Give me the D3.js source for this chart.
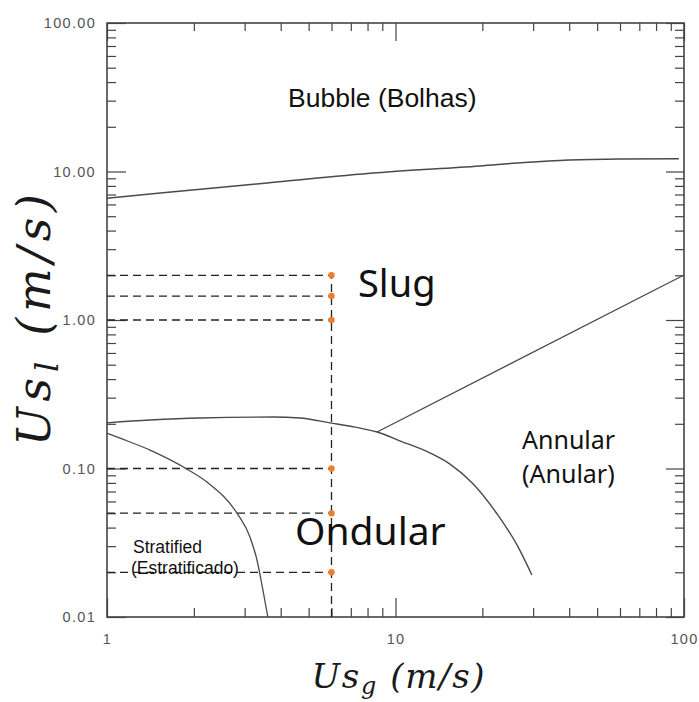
<!DOCTYPE html>
<html>
<head>
<meta charset="utf-8">
<script src="https://cdn.jsdelivr.net/npm/d3@7"></script>
<style>
  body { margin: 0; background: #fff; }
  .tick text { font-family: "Liberation Sans", Arial, sans-serif; font-size: 14.5px; fill: #555; letter-spacing: 1.3px; }
  .tick line { stroke: #444; stroke-width: 1.2; }
</style>
</head>
<body>
<svg id="chart"></svg>
<script>
// tick values
const yMajor = [0.01, 0.1, 1, 10, 100];
const xMajor = [1, 10, 100];

// boundary between bubble and slug
const bubbleUsg = [1, 1.53, 3.59, 8.6, 19.6, 28, 40, 60, 96];
const bubbleUsl = [6.6, 7.17, 8.37, 9.8, 10.9, 11.5, 11.95, 12.15, 12.2];

// boundary slug / ondular
const slugUsg = [1, 1.41, 2.1, 3.77, 4.66, 5.93, 7.24, 8.63, 10.4, 13.2, 15.45, 18.6, 22.5, 26.4, 29.7];
const slugUsl = [0.203, 0.212, 0.219, 0.222, 0.219, 0.203, 0.19, 0.176, 0.153, 0.127, 0.107, 0.0787, 0.0494, 0.0305, 0.0192];

// boundary slug / annular
const annularUsg = [8.63, 100];
const annularUsl = [0.176, 2.01];

// boundary stratified / ondular
const stratUsg = [1, 1.11, 1.41, 1.89, 2.22, 2.82, 3.13, 3.31, 3.47, 3.61];
const stratUsl = [0.173, 0.16, 0.133, 0.0993, 0.0811, 0.0501, 0.0346, 0.0242, 0.0152, 0.01];

// guide points at Usg = 6
const guideUsg = 6;
const guideUsl = [2, 1.45, 1, 0.1, 0.05, 0.02];

const width = 699, height = 702;
const plot = { left: 107, right: 684, top: 23, bottom: 617 };

const svg = d3.select("#chart")
    .attr("width", width)
    .attr("height", height);

const x = d3.scaleLog().domain([1, 100]).range([plot.left, plot.right]);
const y = d3.scaleLog().domain([0.01, 100]).range([plot.bottom, plot.top]);

const xMinor = x.ticks().filter(d => !xMajor.includes(d));
const yMinor = y.ticks().filter(d => !yMajor.includes(d));

// axes: ticks pointing inward on all four sides
function addAxis(axis, transform) {
    svg.append("g")
        .attr("transform", transform)
        .call(axis)
        .call(g => g.select(".domain").remove());
}

addAxis(d3.axisLeft(y).tickValues(yMajor).tickSize(-19).tickPadding(11).tickFormat(d3.format(".2f")), `translate(${plot.left},0)`);
addAxis(d3.axisLeft(y).tickValues(yMinor).tickSize(-9).tickFormat(""), `translate(${plot.left},0)`);
addAxis(d3.axisRight(y).tickValues(yMajor).tickSize(-18).tickFormat(""), `translate(${plot.right},0)`);
addAxis(d3.axisRight(y).tickValues(yMinor).tickSize(-9).tickFormat(""), `translate(${plot.right},0)`);
addAxis(d3.axisBottom(x).tickValues(xMajor).tickSize(-19).tickPadding(17).tickFormat(d3.format("d")), `translate(0,${plot.bottom})`);
addAxis(d3.axisBottom(x).tickValues(xMinor).tickSize(-9).tickFormat(""), `translate(0,${plot.bottom})`);
addAxis(d3.axisTop(x).tickValues(xMajor).tickSize(-18).tickFormat(""), `translate(0,${plot.top})`);
addAxis(d3.axisTop(x).tickValues(xMinor).tickSize(-8).tickFormat(""), `translate(0,${plot.top})`);

svg.append("rect")
    .attr("x", plot.left)
    .attr("y", plot.top)
    .attr("width", plot.right - plot.left)
    .attr("height", plot.bottom - plot.top)
    .attr("fill", "none")
    .attr("stroke", "#444")
    .attr("stroke-width", 1.6);

// dashed guide lines
const guides = svg.append("g")
    .attr("stroke", "#222")
    .attr("stroke-width", 1.3)
    .attr("stroke-dasharray", "8,5");

guides.selectAll("line.h")
    .data(guideUsl)
    .enter().append("line")
    .attr("class", "h")
    .attr("x1", x(1))
    .attr("x2", x(guideUsg))
    .attr("y1", d => y(d))
    .attr("y2", d => y(d));

guides.append("line")
    .attr("x1", x(guideUsg))
    .attr("x2", x(guideUsg))
    .attr("y1", y(0.01))
    .attr("y2", y(d3.max(guideUsl)));

// transition curves
const line = d3.line()
    .x(d => x(d[0]))
    .y(d => y(d[1]))
    .curve(d3.curveMonotoneX);

const curves = [
    { xs: bubbleUsg, ys: bubbleUsl, w: 1.5 },
    { xs: slugUsg, ys: slugUsl, w: 1.4 },
    { xs: annularUsg, ys: annularUsl, w: 1.3 },
    { xs: stratUsg, ys: stratUsl, w: 1.3 }
];

svg.selectAll(".boundary")
    .data(curves)
    .enter().append("path")
    .attr("class", "boundary")
    .attr("d", c => line(c.xs.map((v, i) => [v, c.ys[i]])))
    .attr("fill", "none")
    .attr("stroke", "#4a4a4a")
    .attr("stroke-width", c => c.w);

svg.selectAll(".dot")
    .data(guideUsl)
    .enter().append("circle")
    .attr("class", "dot")
    .attr("cx", x(guideUsg))
    .attr("cy", d => y(d))
    .attr("r", 3.2)
    .attr("fill", "#ed7d31");

// region labels
const labels = [
    { t: "Bubble (Bolhas)", x: 288, y: 107, size: 26.5, font: "Liberation Sans" },
    { t: "Slug", x: 358, y: 297, size: 38, font: "Noto Sans" },
    { t: "Ondular", x: 295, y: 545, size: 39, font: "Noto Sans" },
    { t: "Annular", x: 522, y: 449, size: 25, font: "Noto Sans" },
    { t: "(Anular)", x: 522, y: 483, size: 25, font: "Noto Sans" },
    { t: "Stratified", x: 133, y: 553, size: 17.5, font: "Liberation Sans" },
    { t: "(Estratificado)", x: 131, y: 574, size: 17.5, font: "Liberation Sans" }
];

svg.selectAll(".region")
    .data(labels)
    .enter().append("text")
    .attr("class", "region")
    .attr("x", d => d.x)
    .attr("y", d => d.y)
    .attr("font-family", d => d.font)
    .attr("font-size", d => d.size)
    .attr("fill", "#111")
    .text(d => d.t);

// axis titles
function mathTitle(g, sub) {
    g.attr("font-family", "DejaVu Serif, serif")
        .attr("font-style", "italic")
        .attr("fill", "#1a1a1a");
    g.append("tspan").text("Us");
    g.append("tspan").attr("font-size", "0.7em").attr("dy", "0.25em").text(sub);
    g.append("tspan").attr("dy", "-0.175em").text(" (m/s)");
}

svg.append("text")
    .attr("x", 398)
    .attr("y", 688)
    .attr("text-anchor", "middle")
    .attr("font-size", 34)
    .attr("textLength", 173)
    .call(mathTitle, "g");

svg.append("text")
    .attr("transform", "translate(50,320) rotate(-90)")
    .attr("text-anchor", "middle")
    .attr("font-size", 46)
    .attr("textLength", 252)
    .call(mathTitle, "l");
</script>
</body>
</html>
